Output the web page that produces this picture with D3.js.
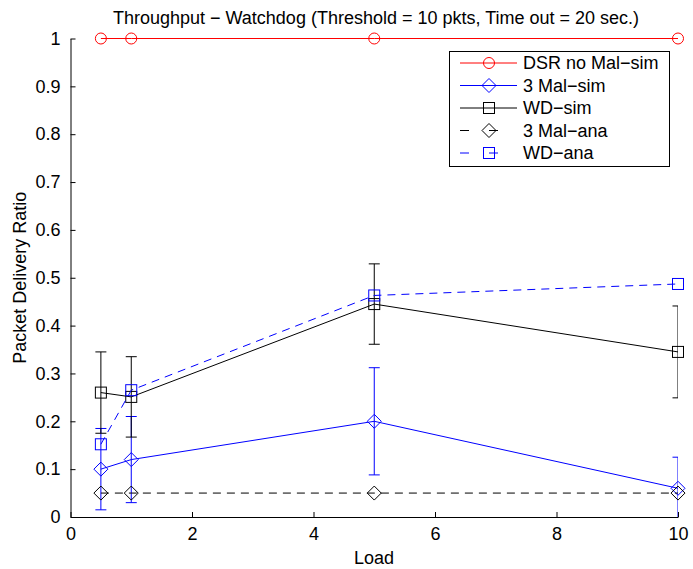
<!DOCTYPE html>
<html>
<head>
<meta charset="utf-8">
<script src="https://cdn.jsdelivr.net/npm/d3@7"></script>
<style>
  body { margin: 0; background: #fff; }
  svg text { font-family: "Liberation Sans", Arial, sans-serif; }
</style>
</head>
<body>
<div id="chart"></div>
<script>
// data
var loads = [0.5, 1, 5, 10];
var dsrNoMal = [1, 1, 1, 1];
var malSim = [0.10, 0.12, 0.20, 0.06];
var malSimErr = [0.085, 0.09, 0.112, 0.065];
var wdSim = [0.26, 0.251, 0.445, 0.345];
var wdSimErr = [0.085, 0.084, 0.084, 0.096];
var malAna = [0.05, 0.05, 0.05, 0.05];
var wdAna = [0.152, 0.265, 0.463, 0.487];
var xTicks = [0, 2, 4, 6, 8, 10];
var yTicks = [0, 0.1, 0.2, 0.3, 0.4, 0.5, 0.6, 0.7, 0.8, 0.9, 1];

var W = 693, H = 569;
var margin = { top: 38.5, right: 15, bottom: 52, left: 70.5 },
    width = 678 - margin.left,
    height = 517 - margin.top;
var fs = "18px";

var svg = d3.select("#chart").append("svg")
    .attr("width", W).attr("height", H);

var g = svg.append("g")
    .attr("transform", "translate(" + margin.left + "," + margin.top + ")");

var x = d3.scaleLinear().domain([0, 10]).range([0, width]);
var y = d3.scaleLinear().domain([0, 1]).range([height, 0]);

// clip for error bars (caps cut at the axis limits)
g.append("defs").append("clipPath").attr("id", "clip")
  .append("rect").attr("width", width).attr("height", height);

// axes, ticks pointing inward
var xAxis = g.append("g")
    .attr("transform", "translate(0," + height + ")")
    .call(d3.axisBottom(x).tickValues(xTicks).tickSize(-5).tickPadding(9).tickSizeOuter(0));
var yAxis = g.append("g")
    .call(d3.axisLeft(y).tickValues(yTicks).tickSize(-5).tickPadding(10).tickSizeOuter(0)
      .tickFormat(function(d) { return d3.format("~g")(d); }));
[xAxis, yAxis].forEach(function(a) {
  a.selectAll("path, line").attr("stroke", "#000");
  a.selectAll("text").attr("fill", "#000").style("font-size", fs);
});
xAxis.selectAll("text").attr("dy", "0.75em");

var line = d3.line()
    .x(function(d) { return x(d[0]); })
    .y(function(d) { return y(d[1]); });

var series = [
  { name: "DSR no Mal\u2212sim", vals: dsrNoMal, color: "#ff0000", marker: "circle", dash: null },
  { name: "3 Mal\u2212sim", vals: malSim, err: malSimErr, color: "#0000ff", marker: "diamond", dash: null },
  { name: "WD\u2212sim", vals: wdSim, err: wdSimErr, color: "#000", marker: "square", dash: null },
  { name: "3 Mal\u2212ana", vals: malAna, color: "#000", marker: "diamond", dash: "8,6" },
  { name: "WD\u2212ana", vals: wdAna, color: "#0000ff", marker: "square", dash: "8,6" }
];

function drawMarker(sel, type, color, cx, cy) {
  if (type === "circle") {
    sel.append("circle").attr("cx", cx).attr("cy", cy).attr("r", 5.5)
      .attr("fill", "none").attr("stroke", color).attr("stroke-width", 1);
  } else if (type === "diamond") {
    var s = 7;
    sel.append("path")
      .attr("d", "M" + cx + "," + (cy - s) + "L" + (cx + s) + "," + cy + "L" + cx + "," + (cy + s) + "L" + (cx - s) + "," + cy + "Z")
      .attr("fill", "none").attr("stroke", color).attr("stroke-width", 1);
  } else {
    sel.append("rect").attr("x", cx - 5.5).attr("y", cy - 5.5).attr("width", 11).attr("height", 11)
      .attr("fill", "none").attr("stroke", color).attr("stroke-width", 1);
  }
}

series.forEach(function(s) {
  var pts = loads.map(function(l, i) { return [l, s.vals[i]]; });
  var grp = g.append("g");
  if (s.err) {
    var eb = grp.append("g").attr("clip-path", "url(#clip)");
    pts.forEach(function(p, i) {
      var px = x(p[0]), lo = y(p[1] - s.err[i]), hi = y(p[1] + s.err[i]);
      eb.append("line").attr("x1", px).attr("x2", px).attr("y1", lo).attr("y2", hi)
        .attr("stroke", s.color);
      [lo, hi].forEach(function(yy) {
        eb.append("line").attr("x1", px - 5.5).attr("x2", px + 5.5).attr("y1", yy).attr("y2", yy)
          .attr("stroke", s.color);
      });
    });
  }
  grp.append("path").datum(pts).attr("d", line)
    .attr("fill", "none").attr("stroke", s.color).attr("stroke-width", 1)
    .attr("stroke-dasharray", s.dash);
  pts.forEach(function(p) { drawMarker(grp, s.marker, s.color, x(p[0]), y(p[1])); });
});

// legend
var lg = svg.append("g");
lg.append("rect").attr("x", 449.5).attr("y", 51.5).attr("width", 220).attr("height", 115)
  .attr("fill", "#fff").attr("stroke", "#000");
series.forEach(function(s, i) {
  var ly = 63 + i * 22.5;
  lg.append("line").attr("x1", 460).attr("x2", 517).attr("y1", ly).attr("y2", ly)
    .attr("stroke", s.color).attr("stroke-dasharray", s.dash ? "9,20" : null);
  drawMarker(lg, s.marker, s.color, 489, ly);
  lg.append("text").attr("x", 523).attr("y", ly).attr("dy", "0.35em")
    .style("font-size", fs).attr("fill", "#000").text(s.name);
});

// titles
svg.append("text").attr("x", 376).attr("y", 24).attr("text-anchor", "middle")
  .style("font-size", fs).text("Throughput \u2212 Watchdog (Threshold = 10 pkts, Time out = 20 sec.)");
svg.append("text").attr("x", 374).attr("y", 564).attr("text-anchor", "middle")
  .style("font-size", fs).text("Load");
svg.append("text").attr("transform", "translate(26," + (margin.top + height / 2) + ") rotate(-90)")
  .attr("text-anchor", "middle").style("font-size", fs).text("Packet Delivery Ratio");
</script>
</body>
</html>
